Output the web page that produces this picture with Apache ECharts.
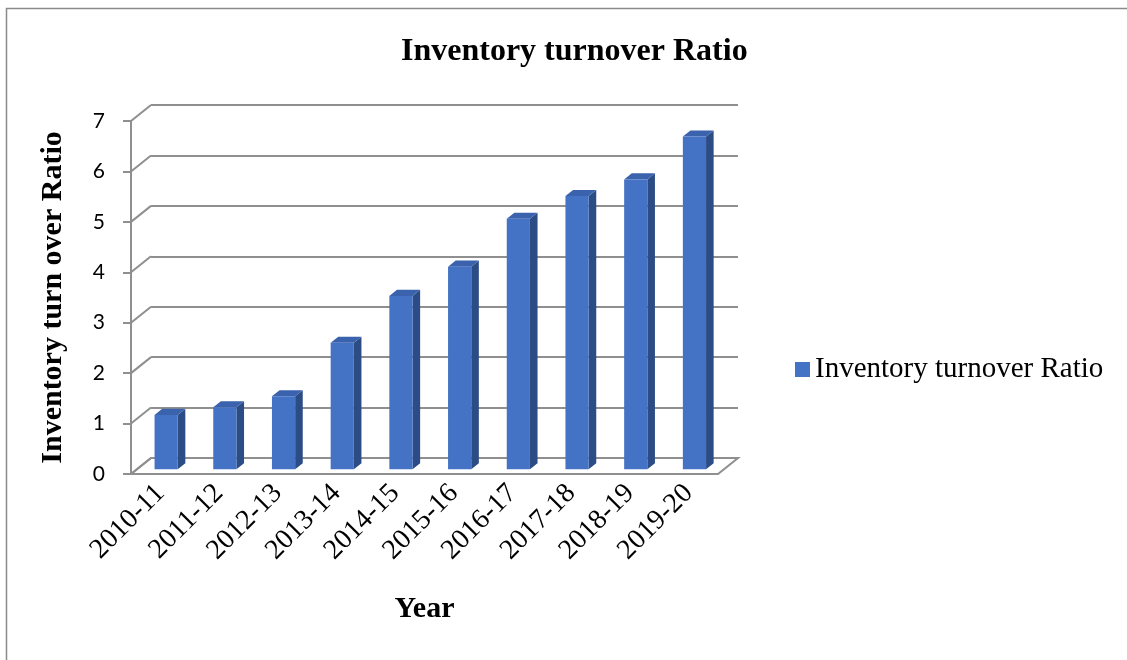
<!DOCTYPE html>
<html>
<head>
<meta charset="utf-8">
<script src="https://cdn.jsdelivr.net/npm/echarts@6/dist/echarts.min.js"></script>
<style>
html,body{margin:0;padding:0;background:#fff;}
#chart{width:1127px;height:660px;}
</style>
</head>
<body>
<div id="chart"></div>
<script>
// ---- data ----
const categories = ['2010-11','2011-12','2012-13','2013-14','2014-15','2015-16','2016-17','2017-18','2018-19','2019-20'];
const ratioValues = [1.08, 1.23, 1.45, 2.51, 3.44, 4.02, 4.97, 5.42, 5.75, 6.60];
const yTickValues = [0, 1, 2, 3, 4, 5, 6, 7];
const seriesName = 'Inventory turnover Ratio';
const chartTitle = 'Inventory turnover Ratio';
const yAxisTitle = 'Inventory turn over Ratio';
const xAxisTitle = 'Year';

// ---- 3D look (layout constants) ----
const DX = 20, DY = -16;          // wall depth offset
const F0 = 0.29, F1 = 0.67;       // bar front/back depth fraction
const BARW = 0.395;               // bar width as fraction of band
const GRID_COLOR = '#8f8f8f';
const FRONT = '#4472C4', SIDE = '#2C4C85', TOP = '#3A62AD';

const chart = echarts.init(document.getElementById('chart'), null, {renderer: 'canvas'});

const option = {
  animation: false,
  backgroundColor: '#fff',
  title: {
    text: chartTitle,
    left: 396,
    top: 31,
    textStyle: {fontFamily: 'Liberation Serif', fontSize: 32, fontWeight: 'bold', color: '#000'}
  },
  legend: {
    data: [seriesName],
    left: 795,
    top: 355,
    padding: 0,
    icon: 'rect',
    itemWidth: 15,
    itemHeight: 15,
    textStyle: {fontFamily: 'Liberation Serif', fontSize: 29, color: '#000'}
  },
  grid: [
    {left: 131, top: 121, width: 587, height: 353},
    {left: 131 + DX, top: 121 + DY, width: 587, height: 353}
  ],
  xAxis: [
    {
      type: 'category', gridIndex: 0, data: categories,
      axisLine: {show: false}, axisTick: {show: false},
      axisLabel: {rotate: 45, margin: 15, fontFamily: 'Liberation Serif', fontSize: 28, color: '#000', interval: 0},
      name: xAxisTitle, nameLocation: 'middle', nameGap: 120,
      nameTextStyle: {fontFamily: 'Liberation Serif', fontSize: 30, fontWeight: 'bold', color: '#000'}
    },
    {type: 'category', gridIndex: 1, data: categories, show: false}
  ],
  yAxis: [
    {
      type: 'value', gridIndex: 0, min: 0, max: 7, interval: 1,
      axisLine: {show: true, lineStyle: {color: GRID_COLOR, width: 2}},
      axisTick: {show: true, length: 8, lineStyle: {color: GRID_COLOR, width: 2}},
      axisLabel: {margin: 26, fontFamily: 'Lato', fontSize: 21, color: '#000'},
      splitLine: {show: false},
      name: yAxisTitle, nameLocation: 'middle', nameGap: 63, nameRotate: 90,
      nameTextStyle: {fontFamily: 'Liberation Serif', fontSize: 30, fontWeight: 'bold', color: '#000'}
    },
    {
      type: 'value', gridIndex: 1, min: 0, max: 7, interval: 1,
      axisLine: {show: false}, axisTick: {show: false}, axisLabel: {show: false},
      splitLine: {show: true, lineStyle: {color: GRID_COLOR, width: 2}}
    }
  ],
  graphic: [
    {type: 'polyline', silent: true, z: 100,
     shape: {points: [[6.5, 660], [6.5, 8.5], [1127, 8.5]]},
     style: {stroke: '#8a8a8a', lineWidth: 1.5, fill: null}}
  ],
  series: [
    {
      // floor and wall connectors
      type: 'custom', xAxisIndex: 0, yAxisIndex: 0, silent: true, z: 1,
      data: [[0, 0]],
      renderItem: function (params, api) {
        const cs = params.coordSys;
        const y0 = api.coord([0, 0])[1];
        const left = cs.x, right = cs.x + cs.width;
        const children = [];
        children.push({type: 'polygon', shape: {points: [[left, y0], [right, y0], [right + DX, y0 + DY], [left + DX, y0 + DY]]},
          style: {fill: '#fff', stroke: GRID_COLOR, lineWidth: 2}});
        yTickValues.forEach(function (t) {
          const y = api.coord([0, t])[1];
          children.push({type: 'line', shape: {x1: left, y1: y, x2: left + DX, y2: y + DY},
            style: {stroke: GRID_COLOR, lineWidth: 2}});
        });
        return {type: 'group', children: children};
      }
    },
    {
      name: seriesName,
      type: 'custom', xAxisIndex: 0, yAxisIndex: 0, z: 5,
      itemStyle: {color: FRONT},
      data: ratioValues.map(function (v, i) { return [i, v]; }),
      renderItem: function (params, api) {
        const i = api.value(0), v = api.value(1);
        const base = api.coord([i, 0]);
        const top = api.coord([i, v]);
        const bw = api.size([1, 0])[0];
        const w = bw * BARW;
        const ox = F0 * DX, oy = F0 * DY;
        const dx = (F1 - F0) * DX, dy = (F1 - F0) * DY;
        const x = base[0] + ox - w / 2;
        const yb = base[1] + oy, yt = top[1] + oy;
        return {
          type: 'group',
          children: [
            {type: 'polygon', shape: {points: [[x + w, yb], [x + w, yt], [x + w + dx, yt + dy], [x + w + dx, yb + dy]]},
             style: {fill: SIDE}},
            {type: 'polygon', shape: {points: [[x, yt], [x + dx, yt + dy], [x + w + dx, yt + dy], [x + w, yt]]},
             style: {fill: TOP}},
            {type: 'rect', shape: {x: x, y: yt, width: w, height: yb - yt},
             style: {fill: FRONT}}
          ]
        };
      }
    }
  ]
};
chart.setOption(option);
</script>
</body>
</html>
